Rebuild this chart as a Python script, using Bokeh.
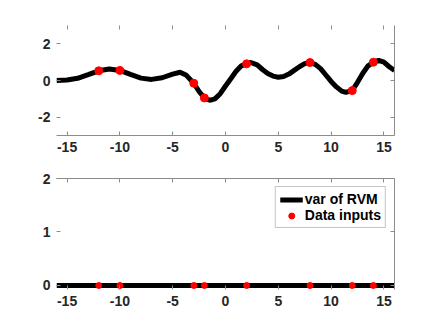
from bokeh.plotting import figure
from bokeh.models import Range1d, LinearAxis, FixedTicker
from bokeh.layouts import column
from bokeh.embed import file_html
from bokeh.resources import INLINE

# RVM predictive mean
curve_x = [-16, -15, -14, -13, -12, -11, -10, -9, -8, -7, -6, -5, -4.3, -3.7, -3,
           -2.5, -2, -1.5, -1, -0.5, 0, 0.5, 1, 1.5, 2, 2.4, 3, 3.5, 4, 4.5, 5,
           5.5, 6, 6.5, 7, 7.5, 8, 8.5, 9, 9.5, 10, 10.5, 11, 11.4, 12, 12.5, 13,
           13.5, 14, 14.5, 15, 15.5, 16]
curve_y = [0.0, 0.03, 0.12, 0.32, 0.53, 0.63, 0.55, 0.33, 0.13, 0.06, 0.15, 0.35,
           0.45, 0.28, -0.15, -0.6, -0.95, -1.08, -1.0, -0.72, -0.3, 0.1, 0.5,
           0.8, 0.92, 0.98, 0.85, 0.6, 0.38, 0.24, 0.18, 0.22, 0.35, 0.55, 0.75,
           0.92, 0.98, 0.88, 0.65, 0.3, -0.05, -0.35, -0.58, -0.65, -0.54, -0.1,
           0.4, 0.8, 1.0, 1.1, 1.0, 0.75, 0.55]

# data inputs
data_x = [-12, -10, -3, -2, 2, 8, 12, 14]
data_y = [0.53, 0.55, -0.15, -0.95, 0.91, 0.98, -0.55, 1.0]

# variance of RVM
var_x = [-16, 16]
var_y = [0, 0]
data_var = [0, 0, 0, 0, 0, 0, 0, 0]

xticks = [-15, -10, -5, 0, 5, 10, 15]
yticks_top = [-2, 0, 2]
yticks_bot = [0, 1, 2]

AX = "#8c8c8c"
TXT = "#262626"
FONT = "Liberation Sans"


def style_axis(ax, ticks, show_labels, show_line):
    ax.ticker = FixedTicker(ticks=ticks)
    ax.major_tick_in = 4
    ax.major_tick_out = 0
    ax.minor_tick_line_color = None
    ax.major_tick_line_color = AX
    ax.major_tick_line_width = 1
    ax.axis_line_color = AX if show_line else None
    ax.axis_line_width = 1
    if show_labels:
        ax.major_label_overrides = {t: str(t) for t in ticks}
        ax.major_label_text_font = FONT
        ax.major_label_text_font_style = "bold"
        ax.major_label_text_font_size = "14px"
        ax.major_label_text_color = TXT
        ax.major_label_standoff = 6
    else:
        ax.major_label_text_color = None
        ax.major_label_standoff = 0


def make_fig(yr, yticks, border_top, frame_h, lines):
    p = figure(frame_width=338, frame_height=frame_h,
               x_range=Range1d(-16, 16), y_range=yr,
               output_backend="svg", toolbar_location=None,
               min_border_left=56, min_border_right=25,
               min_border_top=border_top, min_border_bottom=22)
    p.grid.visible = False
    p.outline_line_color = None
    p.background_fill_color = "white"
    p.border_fill_color = "white"
    p.add_layout(LinearAxis(), "above")
    p.add_layout(LinearAxis(), "right")
    style_axis(p.below[0], xticks, True, lines["below"])
    style_axis(p.left[0], yticks, True, lines["left"])
    style_axis(p.above[0], xticks, False, lines["above"])
    style_axis(p.right[0], yticks, False, lines["right"])
    return p


p1 = make_fig(Range1d(-3, 3), yticks_top, 25, 110,
              {"below": True, "left": False, "above": False, "right": True})
p1.line(curve_x, curve_y, line_color="black", line_width=5)
p1.scatter(data_x, data_y, size=8, fill_color="red", line_color="red")

p2 = make_fig(Range1d(-0.075, 2), yticks_bot, 21, 111,
              {"below": False, "left": False, "above": True, "right": True})
p2.line(var_x, var_y, line_color="black", line_width=5, legend_label="var of RVM")
p2.scatter(data_x, data_var, size=6, fill_color="red", line_color="red",
           legend_label="Data inputs")

lg = p2.legend[0]
lg.location = "top_right"
lg.margin = 8
lg.padding = 4
lg.spacing = 0
lg.glyph_width = 23
lg.glyph_height = 15
lg.label_height = 15
lg.label_standoff = 2
lg.label_text_font = FONT
lg.label_text_font_style = "bold"
lg.label_text_font_size = "14px"
lg.label_text_color = "black"
lg.border_line_color = AX
lg.border_line_width = 1
lg.background_fill_color = "white"
lg.background_fill_alpha = 1.0

layout = column(p1, p2, spacing=0)

open("out.html", "w").write(file_html(layout, INLINE))
